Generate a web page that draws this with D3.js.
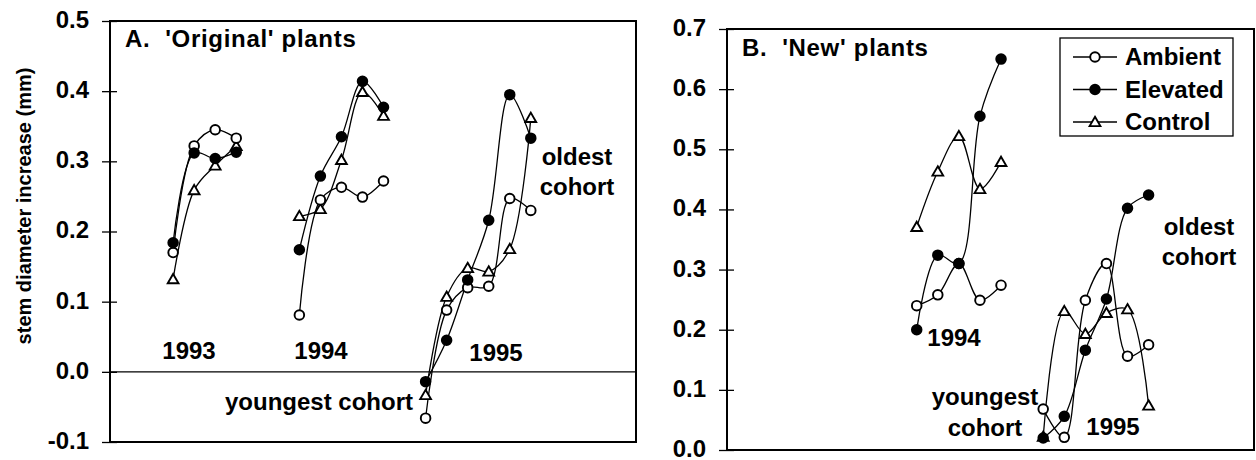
<!DOCTYPE html>
<html><head><meta charset="utf-8">
<script src="https://cdn.jsdelivr.net/npm/d3@7"></script>
<style>
body{margin:0;background:#fff}
svg{display:block}
text{font-family:"Liberation Sans",Arial,Helvetica,sans-serif;fill:#000}
</style>
</head><body>
<svg id="chart" width="1256" height="460"></svg>
<script>
// ---- data ----
const treatments = ["Ambient", "Elevated", "Control"];
// sampling positions (successive measurement dates) for each cohort year
const pos1993 = [0, 1, 2, 3];
const pos1994 = [6, 7, 8, 9, 10];
const pos1995 = [12, 13, 14, 15, 16, 17];

// Panel A: 'Original' plants
const A1993Ambient  = [0.170, 0.322, 0.345, 0.333];
const A1993Elevated = [0.184, 0.312, 0.304, 0.313];
const A1993Control  = [0.132, 0.259, 0.294, 0.322];
const A1994Ambient  = [0.081, 0.245, 0.263, 0.249, 0.272];
const A1994Elevated = [0.174, 0.279, 0.335, 0.414, 0.377];
const A1994Control  = [0.222, 0.232, 0.302, 0.399, 0.365];
const A1995Ambient  = [-0.066, 0.088, 0.120, 0.122, 0.247, 0.230];
const A1995Elevated = [-0.014, 0.045, 0.131, 0.216, 0.395, 0.333];
const A1995Control  = [-0.033, 0.107, 0.148, 0.143, 0.175, 0.362];

// Panel B: 'New' plants
const B1994Ambient  = [0.240, 0.258, 0.310, 0.249, 0.274];
const B1994Elevated = [0.200, 0.324, 0.310, 0.555, 0.650];
const B1994Control  = [0.371, 0.463, 0.522, 0.434, 0.479];
const B1995Ambient  = [0.068, 0.021, 0.249, 0.310, 0.156, 0.175];
const B1995Elevated = [0.020, 0.056, 0.166, 0.251, 0.402, 0.424];
const B1995Control  = [0.022, 0.231, 0.193, 0.228, 0.234, 0.074];

const ticksA = [-0.1, 0.0, 0.1, 0.2, 0.3, 0.4, 0.5];
const tickLabelsA = ["-0.1", "0.0", "0.1", "0.2", "0.3", "0.4", "0.5"];
const ticksB = [0.0, 0.1, 0.2, 0.3, 0.4, 0.5, 0.6, 0.7];
const tickLabelsB = ["0.0", "0.1", "0.2", "0.3", "0.4", "0.5", "0.6", "0.7"];
const xDomain = [-3, 22];

// ---- drawing ----
const svg = d3.select("#chart");
const FONT = 24;

function seriesList(years) {
  const out = [];
  years.forEach(([pos, amb, ele, con]) => {
    out.push({t: "Control", pts: pos.map((x, i) => [x, con[i]])});
    out.push({t: "Ambient", pts: pos.map((x, i) => [x, amb[i]])});
    out.push({t: "Elevated", pts: pos.map((x, i) => [x, ele[i]])});
  });
  return out;
}

function marker(g, t, x, y) {
  if (t === "Control") {
    g.append("path")
      .attr("d", d3.symbol().type(d3.symbolTriangle).size(50)())
      .attr("transform", `translate(${x},${y + 1})`)
      .attr("fill", "#fff").attr("stroke", "#000").attr("stroke-width", 1.9);
  } else {
    g.append("circle").attr("cx", x).attr("cy", y).attr("r", 4.8)
      .attr("fill", t === "Elevated" ? "#000" : "#fff")
      .attr("stroke", "#000").attr("stroke-width", 1.9);
  }
}

function panel(cfg) {
  const x = d3.scaleLinear().domain(xDomain).range([cfg.left, cfg.right]);
  const y = d3.scaleLinear().domain(cfg.yDomain).range([cfg.bottom, cfg.top]);
  const g = svg.append("g");

  // y axis
  const ax = d3.axisLeft(y).tickValues(cfg.ticks)
    .tickFormat((d, i) => cfg.tickLabels[i]).tickSizeOuter(0).tickSize(8).tickPadding(13);
  const ag = g.append("g").attr("transform", `translate(${cfg.left},0)`).call(ax);
  ag.select(".domain").remove();
  ag.selectAll(".tick line").attr("x1", -8).attr("x2", 7).attr("stroke", "#000").attr("stroke-width", 1.3);
  ag.selectAll(".tick text").attr("font-size", FONT).attr("font-weight", "bold").attr("fill", "#000")
    .attr("dy", "0.27em")
    .style("font-family", '"Liberation Sans",Arial,sans-serif');

  if (cfg.zeroLine) {
    g.append("line").attr("x1", cfg.left).attr("x2", cfg.right)
      .attr("y1", y(0)).attr("y2", y(0)).attr("stroke", "#000").attr("stroke-width", 1.2);
  }

  // frame
  g.append("rect").attr("x", cfg.left).attr("y", cfg.top)
    .attr("width", cfg.right - cfg.left).attr("height", cfg.bottom - cfg.top)
    .attr("fill", "none").attr("stroke", "#000").attr("stroke-width", 2);

  const line = d3.line().x(d => x(d[0])).y(d => y(d[1])).curve(d3.curveCatmullRom.alpha(0.5));
  const series = seriesList(cfg.years);
  series.forEach(s => {
    g.append("path").attr("d", line(s.pts)).attr("fill", "none")
      .attr("stroke", "#000").attr("stroke-width", 1.3);
  });
  series.forEach(s => s.pts.forEach(p => marker(g, s.t, x(p[0]), y(p[1]))));

  // title
  g.append("text").attr("x", cfg.left + cfg.titleDx).attr("y", cfg.titleY)
    .attr("font-size", 24).attr("font-weight", "bold").attr("letter-spacing", 0.7)
    .style("white-space", "pre")
    .text(cfg.title);

  cfg.notes.forEach(n => {
    g.append("text").attr("x", n[0]).attr("y", n[1]).attr("text-anchor", "middle")
      .attr("font-size", FONT).attr("font-weight", "bold").text(n[2]);
  });
  return {x, y};
}

panel({
  left: 110, right: 636, top: 21, bottom: 442,
  yDomain: [-0.1, 0.5], ticks: ticksA, tickLabels: tickLabelsA, zeroLine: true,
  years: [[pos1993, A1993Ambient, A1993Elevated, A1993Control],
          [pos1994, A1994Ambient, A1994Elevated, A1994Control],
          [pos1995, A1995Ambient, A1995Elevated, A1995Control]],
  title: "A.  'Original' plants", titleDx: 15, titleY: 47,
  notes: [[189, 359, "1993"], [321, 359, "1994"], [496, 361, "1995"],
          [319, 410, "youngest cohort"], [577, 165, "oldest"], [577, 195, "cohort"]]
});

panel({
  left: 727, right: 1254, top: 29, bottom: 450,
  yDomain: [0, 0.7], ticks: ticksB, tickLabels: tickLabelsB, zeroLine: false,
  years: [[pos1994, B1994Ambient, B1994Elevated, B1994Control],
          [pos1995, B1995Ambient, B1995Elevated, B1995Control]],
  title: "B.  'New' plants", titleDx: 15, titleY: 56,
  notes: [[954, 346, "1994"], [985, 405, "youngest"], [985, 436, "cohort"],
          [1113, 435, "1995"], [1199, 235, "oldest"], [1199, 265, "cohort"]]
});

// y-axis title
svg.append("text").attr("transform", "translate(31,206) rotate(-90)")
  .attr("text-anchor", "middle").attr("font-size", 20).attr("font-weight", "bold")
  .text("stem diameter increase (mm)");

// legend
const lg = svg.append("g");
lg.append("rect").attr("x", 1060).attr("y", 38).attr("width", 173).attr("height", 98)
  .attr("fill", "#fff").attr("stroke", "#000").attr("stroke-width", 1.3);
treatments.forEach((t, i) => {
  const cy = 57 + i * 32.5;
  lg.append("line").attr("x1", 1073).attr("x2", 1117).attr("y1", cy).attr("y2", cy)
    .attr("stroke", "#000").attr("stroke-width", 1.3);
  marker(lg, t, 1095, cy);
  lg.append("text").attr("x", 1125).attr("y", cy + 8).attr("font-size", FONT)
    .attr("font-weight", "bold").text(t);
});
</script>
</body></html>
